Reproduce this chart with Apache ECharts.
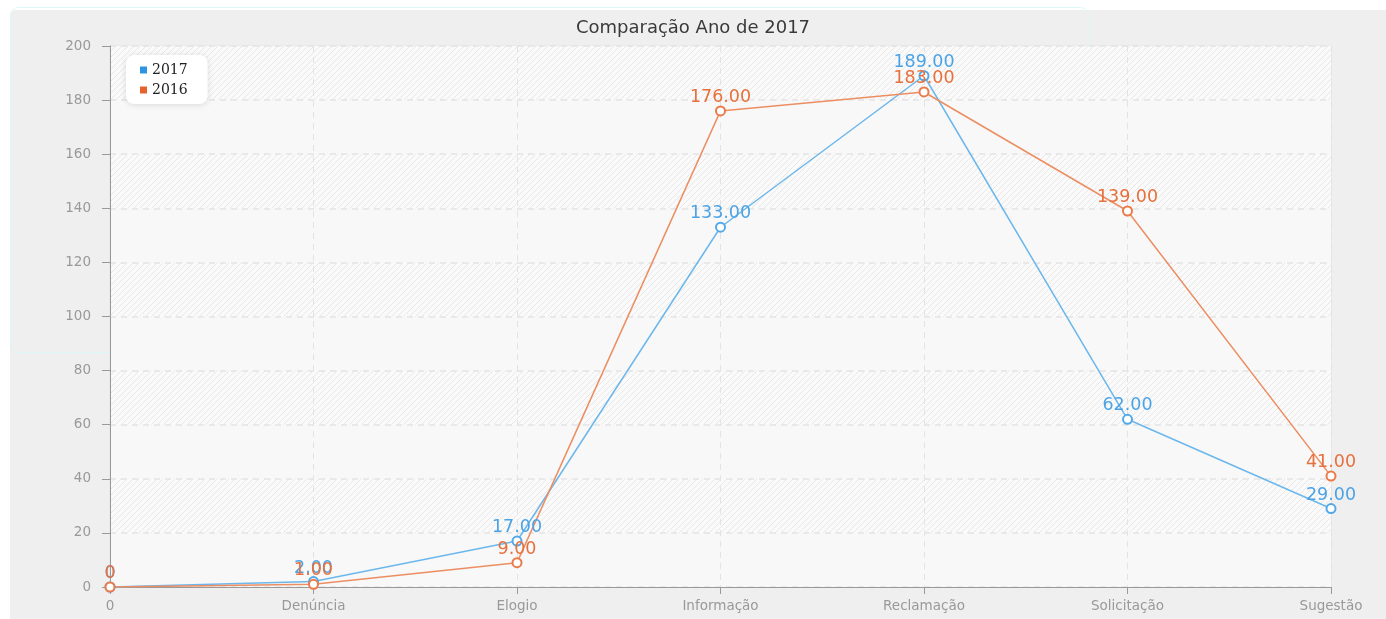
<!DOCTYPE html>
<html>
<head>
<meta charset="utf-8">
<script src="https://cdn.jsdelivr.net/npm/echarts@6/dist/echarts.min.js"></script>
<style>
  html, body { margin: 0; padding: 0; background: #fff; }
  #chart { width: 1386px; height: 619px; }
</style>
</head>
<body>
<div id="chart"></div>
<script>
const categories = ['0', 'Denúncia', 'Elogio', 'Informação', 'Reclamação', 'Solicitação', 'Sugestão'];
const values2017 = [0, 2, 17, 133, 189, 62, 29];
const values2016 = [0, 1, 9, 176, 183, 139, 41];
const seriesNames = ['2017', '2016'];

// diagonal hatch for the alternate bands
const hatch = document.createElement('canvas');
hatch.width = 6;
hatch.height = 6;
const hctx = hatch.getContext('2d');
hctx.fillStyle = '#fafafa';
hctx.fillRect(0, 0, 6, 6);
hctx.strokeStyle = '#e8e8e8';
hctx.lineWidth = 1;
hctx.beginPath();
hctx.moveTo(0, 6); hctx.lineTo(6, 0);
hctx.moveTo(-1, 1); hctx.lineTo(1, -1);
hctx.moveTo(5, 7); hctx.lineTo(7, 5);
hctx.stroke();

const fmt = p => p.value === 0 ? '0' : p.value.toFixed(2);

const chart = echarts.init(document.getElementById('chart'));

const option = {
  animation: false,
  graphic: [
    {
      type: 'rect', z: -100, silent: true,
      shape: { x: 10, y: 10, width: 1380, height: 615, r: 6 },
      style: { fill: '#efefef' }
    },
    {
      type: 'rect', z: -99, silent: true,
      shape: { x: 10.5, y: 7.5, width: 1078, height: 345, r: 8 },
      style: { fill: 'none', stroke: '#dcf7f7', lineWidth: 1 }
    }
  ],
  title: {
    text: 'Comparação Ano de 2017',
    left: 'center',
    top: 14,
    textStyle: {
      fontFamily: 'DejaVu Sans',
      fontSize: 18,
      fontWeight: 'normal',
      color: '#3a3a3a'
    }
  },
  legend: {
    data: [
      { name: seriesNames[0], itemStyle: { color: '#2e94e0' } },
      { name: seriesNames[1], itemStyle: { color: '#e6632e' } }
    ],
    orient: 'vertical',
    left: 126,
    top: 55,
    padding: [8, 20, 7, 14],
    itemGap: 6,
    itemWidth: 7,
    itemHeight: 7,
    icon: 'rect',
    itemStyle: { borderWidth: 0 },
    backgroundColor: '#fff',
    borderRadius: 8,
    shadowColor: 'rgba(0,0,0,0.12)',
    shadowBlur: 6,
    shadowOffsetY: 1,
    textStyle: { fontFamily: 'DejaVu Serif', fontSize: 14, color: '#222' }
  },
  grid: {
    left: 110,
    right: 55,
    top: 46,
    bottom: 32,
    show: true,
    borderColor: '#e2e2e2',
    borderWidth: 1,
    backgroundColor: '#f8f8f8'
  },
  xAxis: {
    type: 'category',
    data: categories,
    boundaryGap: false,
    axisLine: { lineStyle: { color: '#999' } },
    axisTick: { alignWithLabel: true, lineStyle: { color: '#999' }, length: 7 },
    axisLabel: { color: '#999', fontFamily: 'DejaVu Sans', fontSize: 13.5, margin: 12 },
    splitLine: { show: true, lineStyle: { color: '#e3e3e3', type: [6, 5] } }
  },
  yAxis: {
    type: 'value',
    min: 0,
    max: 200,
    interval: 20,
    axisLine: { show: true, lineStyle: { color: '#999' } },
    axisTick: { show: true, lineStyle: { color: '#999' }, length: 8 },
    axisLabel: { color: '#999', fontFamily: 'DejaVu Sans', fontSize: 13.5, margin: 19 },
    splitLine: { show: true, lineStyle: { color: '#e3e3e3', width: 1.5, type: [6, 5] } },
    splitArea: {
      show: true,
      areaStyle: { color: ['#f8f8f8', { image: hatch, repeat: 'repeat' }] }
    }
  },
  series: [
    {
      name: seriesNames[0],
      type: 'line',
      data: values2017,
      symbol: 'emptyCircle',
      symbolSize: 9,
      lineStyle: { color: '#6cb7ec', width: 1.5 },
      itemStyle: { color: '#52a9ea', borderWidth: 1.5 },
      label: {
        show: true,
        position: 'top',
        distance: -1,
        formatter: fmt,
        color: '#4ba3e6',
        fontFamily: 'DejaVu Sans',
        fontSize: 17.5
      }
    },
    {
      name: seriesNames[1],
      type: 'line',
      data: values2016,
      symbol: 'emptyCircle',
      symbolSize: 9,
      lineStyle: { color: '#ec8e62', width: 1.5 },
      itemStyle: { color: '#ea7a48', borderWidth: 1.5 },
      label: {
        show: true,
        position: 'top',
        distance: -1,
        formatter: fmt,
        color: '#e7703c',
        fontFamily: 'DejaVu Sans',
        fontSize: 17.5
      }
    }
  ]
};

chart.setOption(option);
</script>
</body>
</html>
